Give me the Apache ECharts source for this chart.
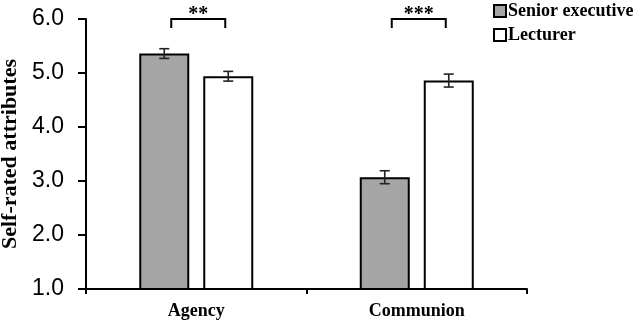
<!DOCTYPE html>
<html><head><meta charset="utf-8">
<script src="https://cdn.jsdelivr.net/npm/echarts@6/dist/echarts.min.js"></script>
<style>html,body{margin:0;padding:0;background:#fff}#c{width:638px;height:323px}</style>
</head><body><div id="c"></div>
<script>
// ---- data ----
const categories = ['Agency', 'Communion'];
const seriesNames = ['Senior executive', 'Lecturer'];
const seniorValues = [5.36, 3.07];
const lecturerValues = [4.94, 4.86];
const seniorErrors = [0.09, 0.12];
const lecturerErrors = [0.09, 0.12];
const sigLabels = ['**', '***'];
const sigLevel = 6.0;
const yMin = 1, yMax = 6, yStep = 1;

// ---- styles ----
const SERIF = '"Times New Roman","Liberation Serif",serif';
const SANS = 'Arial,"Liberation Sans",sans-serif';
const BAR_W = 50, BAR_GAP_PX = 14;
const HALF = (BAR_W + BAR_GAP_PX) / 2;

const errData = [];
categories.forEach((c, i) => {
  errData.push([i, seniorValues[i], seniorErrors[i], -1]);
  errData.push([i, lecturerValues[i], lecturerErrors[i], 1]);
});
const sigData = categories.map((c, i) => [i, sigLevel, i]);

const chart = echarts.init(document.getElementById('c'), null, {renderer: 'canvas'});
chart.setOption({
  animation: false,
  backgroundColor: '#fff',
  grid: {left: 86, right: 111, top: 19, bottom: 34, containLabel: false, outerBoundsMode: 'none'},
  legend: {
    orient: 'vertical', left: 488, top: -3, itemWidth: 12, itemHeight: 12, itemGap: 6,
    icon: 'rect',
    textStyle: {fontFamily: SERIF, fontWeight: 'bold', fontSize: 18, color: '#000', padding: [0,0,0,-3]},
    data: seriesNames
  },
  xAxis: {
    type: 'category', data: categories,
    axisLine: {lineStyle: {color: '#000', width: 2}},
    axisTick: {show: true, alignWithLabel: false, length: 5, lineStyle: {color: '#000', width: 2}},
    axisLabel: {fontFamily: SERIF, fontWeight: 'bold', fontSize: 18, color: '#000', margin: 13}
  },
  yAxis: {
    type: 'value', min: yMin, max: yMax, interval: yStep,
    name: 'Self-rated attributes', nameLocation: 'middle', nameGap: 64,
    nameTextStyle: {fontFamily: SERIF, fontWeight: 'bold', fontSize: 22, color: '#000'},
    axisLine: {show: true, lineStyle: {color: '#000', width: 2}},
    axisTick: {show: true, length: 8, lineStyle: {color: '#000', width: 2}},
    splitLine: {show: false},
    axisLabel: {fontFamily: SANS, fontSize: 23, color: '#000', margin: 22,
      formatter: v => v.toFixed(1)}
  },
  series: [
    {name: seriesNames[0], type: 'bar', data: seniorValues, barWidth: BAR_W,
     barGap: (BAR_GAP_PX / BAR_W * 100) + '%',
     itemStyle: {color: '#a5a5a5', borderColor: '#000', borderWidth: 2}},
    {name: seriesNames[1], type: 'bar', data: lecturerValues, barWidth: BAR_W,
     barGap: (BAR_GAP_PX / BAR_W * 100) + '%',
     itemStyle: {color: '#fff', borderColor: '#000', borderWidth: 2}},
    {type: 'custom', data: errData, clip: false, z: 10,
     renderItem: (params, api) => {
       const cat = api.value(0), v = api.value(1), e = api.value(2), side = api.value(3);
       const x = api.coord([cat, v])[0] + side * HALF;
       const yt = api.coord([cat, v + e])[1], yb = api.coord([cat, v - e])[1];
       const st = {stroke: '#222', lineWidth: 1.6};
       return {type: 'group', children: [
         {type: 'line', shape: {x1: x, y1: yt, x2: x, y2: yb}, style: st},
         {type: 'line', shape: {x1: x - 5, y1: yt, x2: x + 5, y2: yt}, style: st},
         {type: 'line', shape: {x1: x - 5, y1: yb, x2: x + 5, y2: yb}, style: st}
       ]};
     }},
    {type: 'custom', data: sigData, clip: false, z: 10,
     renderItem: (params, api) => {
       const cat = api.value(0), v = api.value(1), idx = api.value(2);
       const p = api.coord([cat, v]);
       const cx = p[0] + 2, hw = 27, y = p[1];
       return {type: 'group', children: [
         {type: 'polyline', shape: {points: [[cx - hw, y + 9], [cx - hw, y], [cx + hw, y], [cx + hw, y + 9]]},
          style: {stroke: '#000', lineWidth: 2, fill: null}},
         {type: 'text', x: cx, y: y + 6, style: {text: sigLabels[idx], font: 'bold 20px ' + SERIF,
          fill: '#000', align: 'center', verticalAlign: 'bottom'}}
       ]};
     }}
  ]
});
</script></body></html>
